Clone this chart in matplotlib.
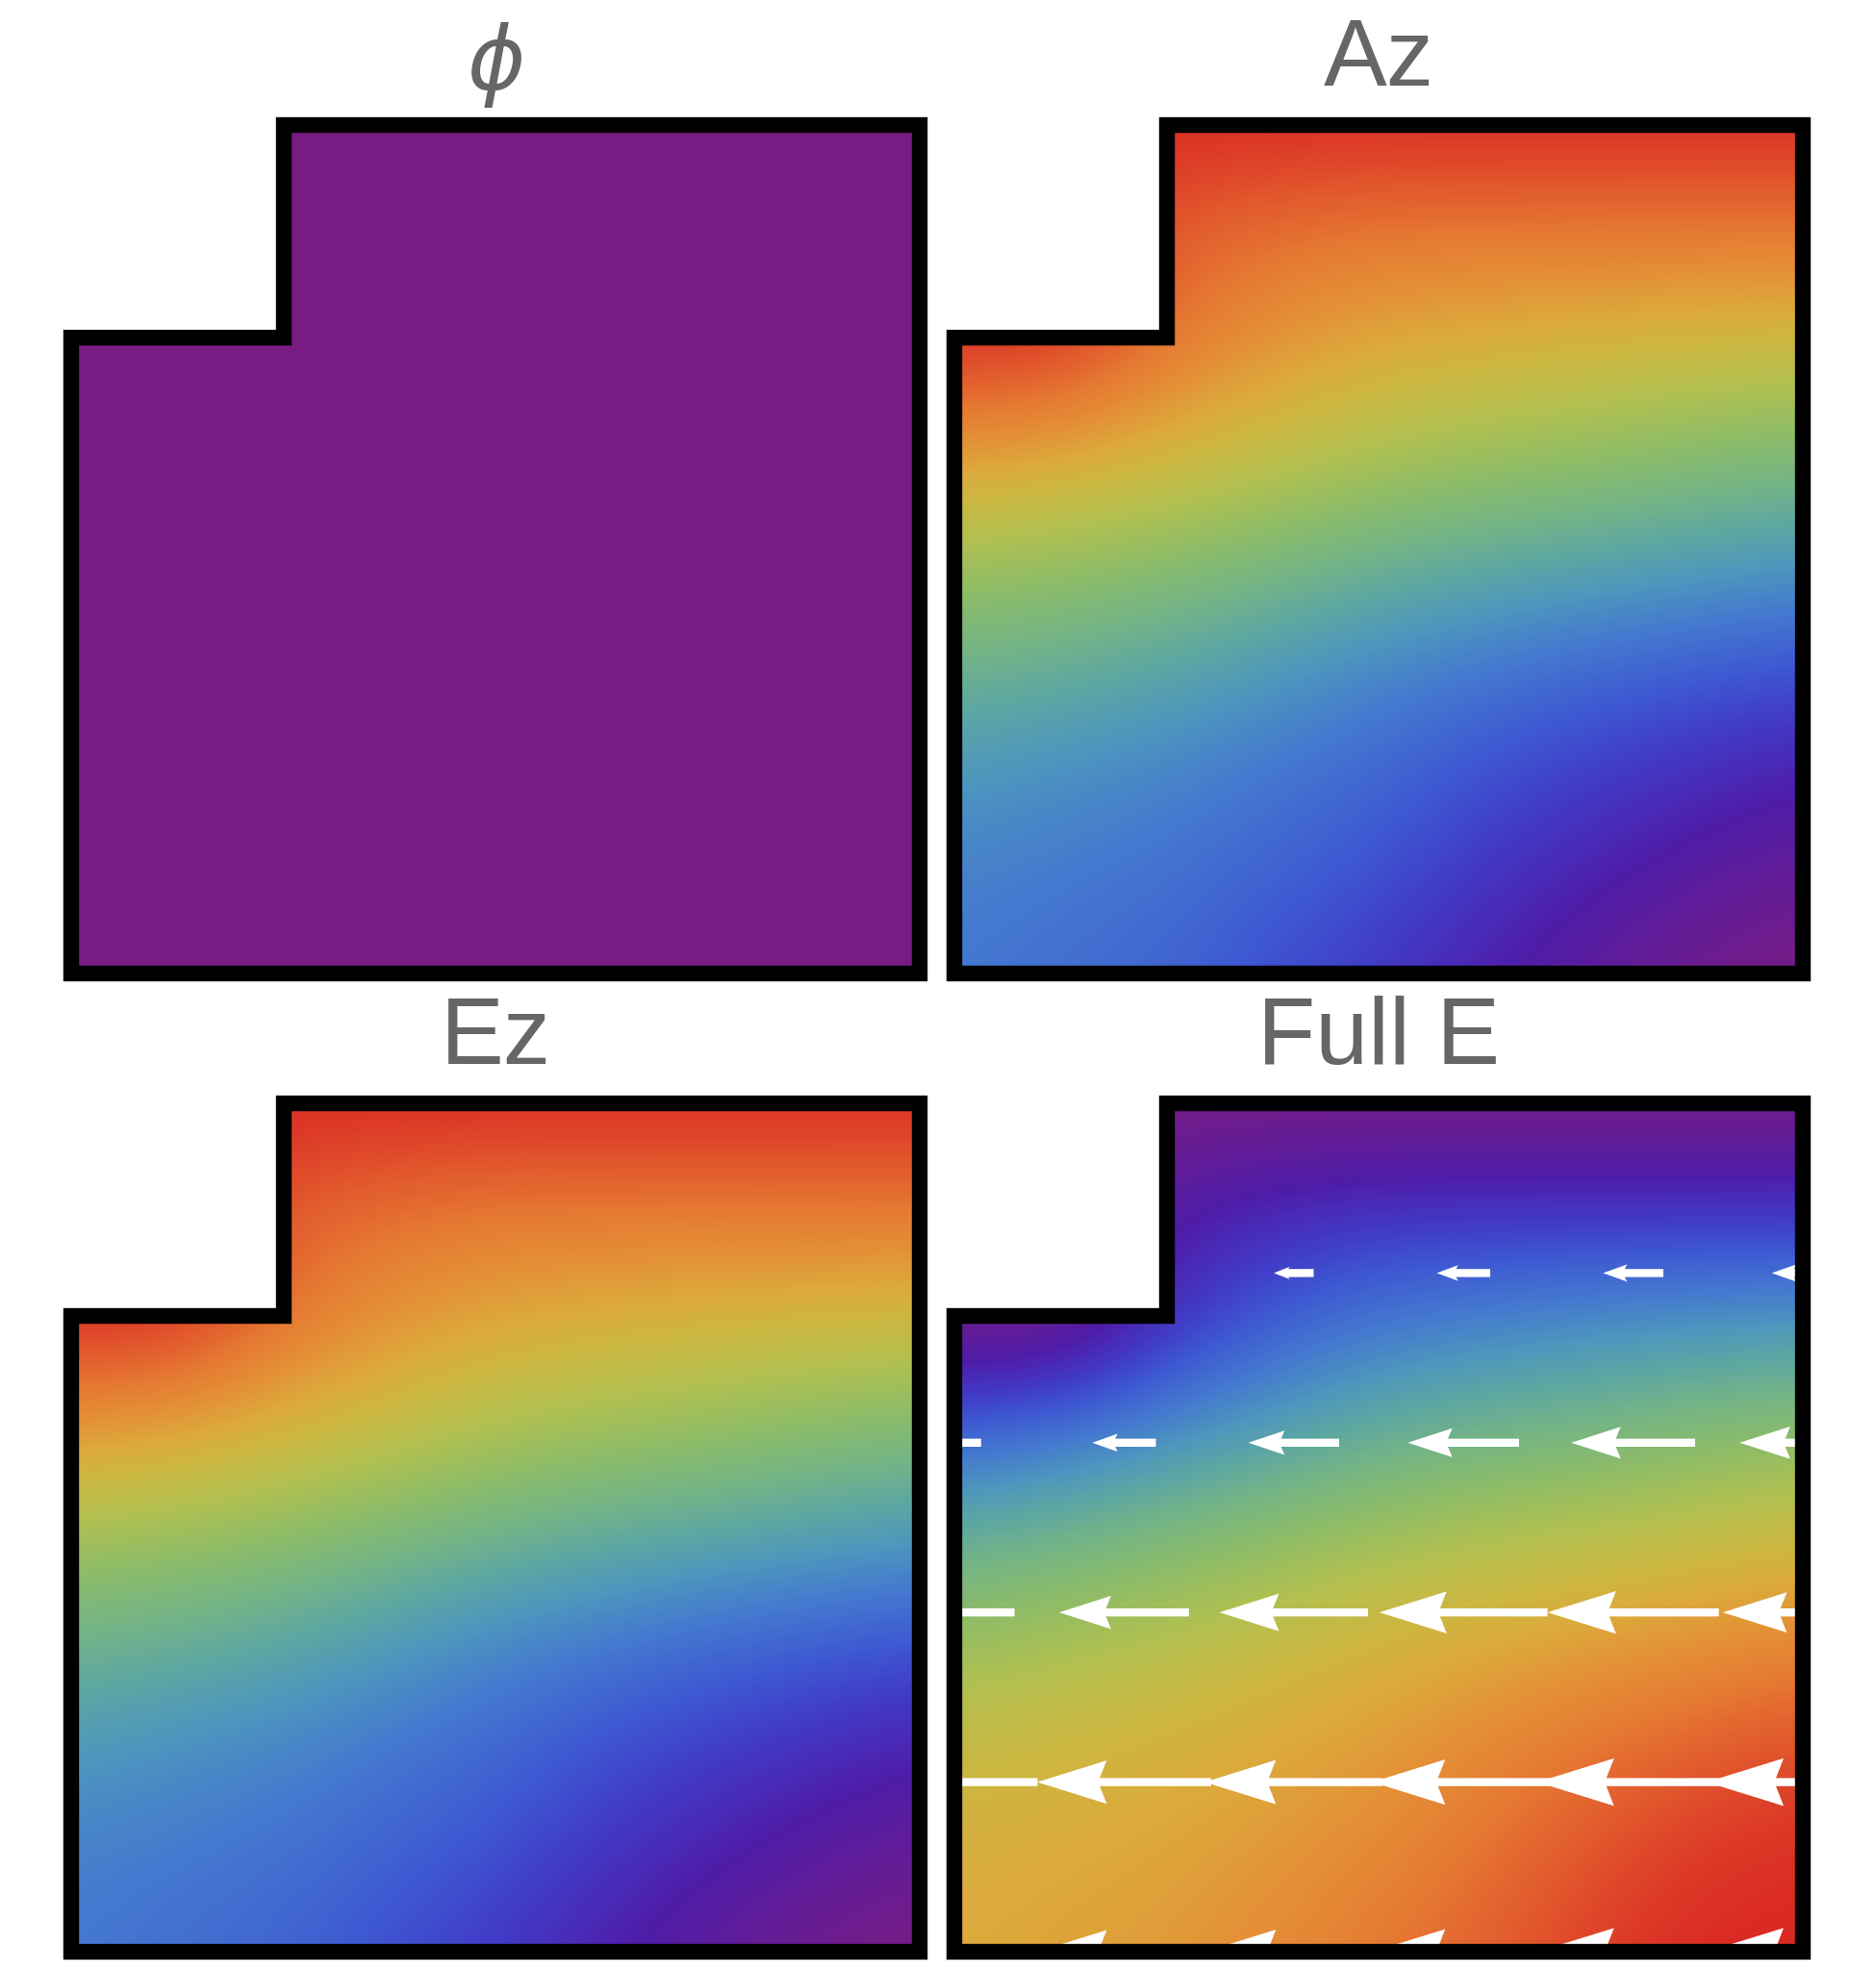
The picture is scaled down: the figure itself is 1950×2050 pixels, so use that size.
import numpy as np
import matplotlib.pyplot as plt
from matplotlib.colors import LinearSegmentedColormap, Normalize
from matplotlib.patches import Polygon

# ---- data ----
# L-shaped domain (unit square with the top-left quarter notched out)
domain_x = [0, 1, 1, 0.25, 0.25, 0]
domain_y = [0, 0, 1, 1, 0.75, 0.75]

# sample nodes of the colour fields (rows listed top -> bottom)
grid_x = [0, 0.125, 0.25, 0.375, 0.5, 0.625, 0.75, 0.875, 1]
grid_y = [1, 0.875, 0.75, 0.625, 0.5, 0.375, 0.25, 0.125, 0]

phi_value = 0.0

az_grid = [
    [1.00, 1.00, 1.00, 1.00, 1.00, 1.00, 1.00, 1.00, 1.00],
    [1.00, 1.00, 0.90, 0.87, 0.85, 0.85, 0.85, 0.85, 0.85],
    [1.00, 1.00, 0.86, 0.78, 0.73, 0.71, 0.69, 0.68, 0.67],
    [0.78, 0.75, 0.70, 0.65, 0.60, 0.57, 0.55, 0.52, 0.50],
    [0.58, 0.56, 0.53, 0.49, 0.45, 0.42, 0.40, 0.38, 0.36],
    [0.45, 0.43, 0.40, 0.36, 0.32, 0.29, 0.26, 0.24, 0.22],
    [0.355, 0.33, 0.31, 0.28, 0.25, 0.21, 0.18, 0.15, 0.12],
    [0.30, 0.285, 0.27, 0.24, 0.21, 0.16, 0.12, 0.08, 0.05],
    [0.28, 0.26, 0.24, 0.20, 0.16, 0.11, 0.06, 0.02, 0.00],
]

# Ez panel shows the same picture as Az
ez_grid = [
    [1.00, 1.00, 1.00, 1.00, 1.00, 1.00, 1.00, 1.00, 1.00],
    [1.00, 1.00, 0.90, 0.87, 0.85, 0.85, 0.85, 0.85, 0.85],
    [1.00, 1.00, 0.86, 0.78, 0.73, 0.71, 0.69, 0.68, 0.67],
    [0.78, 0.75, 0.70, 0.65, 0.60, 0.57, 0.55, 0.52, 0.50],
    [0.58, 0.56, 0.53, 0.49, 0.45, 0.42, 0.40, 0.38, 0.36],
    [0.45, 0.43, 0.40, 0.36, 0.32, 0.29, 0.26, 0.24, 0.22],
    [0.355, 0.33, 0.31, 0.28, 0.25, 0.21, 0.18, 0.15, 0.12],
    [0.30, 0.285, 0.27, 0.24, 0.21, 0.16, 0.12, 0.08, 0.05],
    [0.28, 0.26, 0.24, 0.20, 0.16, 0.11, 0.06, 0.02, 0.00],
]

full_grid = [
    [0.00, 0.00, 0.00, 0.00, 0.00, 0.00, 0.00, 0.00, 0.00],
    [0.00, 0.00, 0.10, 0.13, 0.15, 0.15, 0.15, 0.15, 0.15],
    [0.00, 0.00, 0.14, 0.22, 0.27, 0.29, 0.31, 0.32, 0.33],
    [0.22, 0.25, 0.30, 0.35, 0.40, 0.43, 0.45, 0.48, 0.50],
    [0.40, 0.43, 0.47, 0.51, 0.55, 0.58, 0.60, 0.62, 0.65],
    [0.54, 0.57, 0.60, 0.64, 0.68, 0.71, 0.74, 0.77, 0.80],
    [0.645, 0.67, 0.69, 0.72, 0.75, 0.80, 0.85, 0.89, 0.93],
    [0.70, 0.715, 0.73, 0.76, 0.80, 0.86, 0.92, 0.97, 0.99],
    [0.72, 0.74, 0.76, 0.80, 0.85, 0.90, 0.96, 1.00, 1.00],
]

# E-field arrows (all point in -x), length in domain units
arrow_x = [0, 0.2, 0.4, 0.6, 0.8, 1.0]
arrow_y = [0.8, 0.6, 0.4, 0.2, 0.0]
arrow_len = [
    [np.nan, np.nan, 0.047, 0.063, 0.071, 0.073],
    [0.063, 0.075, 0.107, 0.131, 0.146, 0.149],
    [0.142, 0.153, 0.175, 0.198, 0.202, 0.189],
    [0.196, 0.205, 0.210, 0.215, 0.226, 0.227],
    [0.196, 0.205, 0.210, 0.215, 0.226, 0.227],
]

titles = [r'$\phi$', 'Az', 'Ez', 'Full E']

# rainbow colour scheme
rainbow = LinearSegmentedColormap.from_list('rainbow_m', [
    (0.00, '#781c83'), (0.10, '#501ca8'), (0.17, '#413cc8'), (0.22, '#3e5ad2'),
    (0.28, '#4478d0'), (0.34, '#4e96be'), (0.40, '#5fa8a0'), (0.45, '#73b487'),
    (0.52, '#8cbc69'), (0.60, '#b2c050'), (0.67, '#cdb741'), (0.72, '#dcaa3c'),
    (0.78, '#e49137'), (0.85, '#e67832'), (0.92, '#e1552d'), (1.00, '#da2823'),
])
norm = Normalize(0, 1)

fig = plt.figure(figsize=(19.5, 20.5), dpi=100)
W, H = 1950, 2050
boxes = [(74, 130), (992, 130), (74, 1147), (992, 1147)]
side = 882


def make_ax(left, top):
    ax = fig.add_axes([left / W, 1 - (top + side) / H, side / W, side / H])
    ax.axis('off')
    return ax


def domain_patch(ax, **kw):
    p = Polygon(np.column_stack([domain_x, domain_y]), closed=True, **kw)
    ax.add_patch(p)
    return p


def field(ax, grid, clip):
    dx = grid_x[1] - grid_x[0]
    dy = grid_y[0] - grid_y[1]
    im = ax.imshow(np.array(grid), cmap=rainbow, norm=norm, origin='upper',
                   extent=[grid_x[0] - dx / 2, grid_x[-1] + dx / 2,
                           grid_y[-1] - dy / 2, grid_y[0] + dy / 2],
                   interpolation='bicubic', interpolation_stage='data')
    im.set_clip_path(clip)


def outline(ax):
    domain_patch(ax, fill=False, edgecolor='black', linewidth=11.8,
                 joinstyle='miter', clip_on=False, zorder=5)


axes = [make_ax(l, t) for l, t in boxes]

# phi: a constant field
ax = axes[0]
domain_patch(ax, facecolor=rainbow(norm(phi_value)), edgecolor='none')
outline(ax)

# Az and Ez
for ax, grid in [(axes[1], az_grid), (axes[2], ez_grid)]:
    clip = domain_patch(ax, facecolor='none', edgecolor='none')
    field(ax, grid, clip)
    outline(ax)

# full E with arrows
ax = axes[3]
clip = domain_patch(ax, facecolor='none', edgecolor='none')
field(ax, full_grid, clip)
for yi, row in zip(arrow_y, arrow_len):
    for xi, L in zip(arrow_x, row):
        if np.isnan(L):
            continue
        a = ax.arrow(xi + L / 2, yi, -L, 0, width=0.0095,
                     head_width=0.004 + 0.23 * L, head_length=0.40 * L,
                     overhang=0.1, length_includes_head=True,
                     facecolor='white', edgecolor='none', zorder=3)
        a.set_clip_path(clip)
outline(ax)

for ax in axes:
    ax.set_xlim(0, 1)
    ax.set_ylim(0, 1)

for i, ((l, t), title) in enumerate(zip(boxes, titles)):
    size, base = (66, t - 37) if i == 0 else (71, t - 41)
    fig.text((l + side / 2) / W, 1 - base / H, title, ha='center', va='baseline',
             fontsize=size, color='#666666', family='Liberation Sans')

fig.savefig('out.png', dpi=100)
